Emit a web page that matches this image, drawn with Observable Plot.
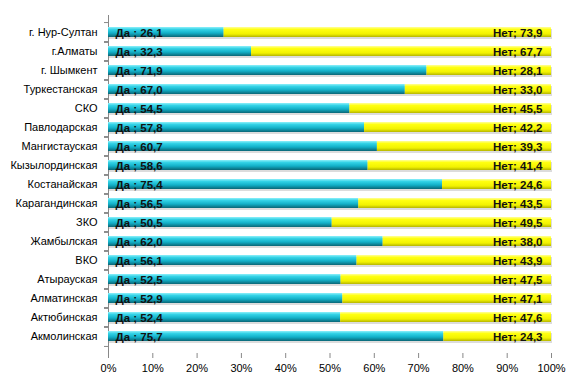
<!DOCTYPE html>
<html>
<head>
<meta charset="utf-8">
<script src="https://cdn.jsdelivr.net/npm/d3@7"></script>
<script src="https://cdn.jsdelivr.net/npm/@observablehq/plot@0.6"></script>
<style>
  body { margin: 0; background: #fff; }
  #chart svg { display: block; }
</style>
</head>
<body>
<div id="chart"></div>
<script>
const regions = ["г. Нур-Султан", "г.Алматы", "г. Шымкент", "Туркестанская", "СКО", "Павлодарская", "Мангистауская", "Кызылординская", "Костанайская", "Карагандинская", "ЗКО", "Жамбылская", "ВКО", "Атырауская", "Алматинская", "Актюбинская", "Акмолинская"];
const yes = [26.1, 32.3, 71.9, 67.0, 54.5, 57.8, 60.7, 58.6, 75.4, 56.5, 50.5, 62.0, 56.1, 52.5, 52.9, 52.4, 75.7];
const no = [73.9, 67.7, 28.1, 33.0, 45.5, 42.2, 39.3, 41.4, 24.6, 43.5, 49.5, 38.0, 43.9, 47.5, 47.1, 47.6, 24.3];
const xTicks = [0, 10, 20, 30, 40, 50, 60, 70, 80, 90, 100];

const fmt = v => v.toFixed(1).replace(".", ",");
const rows = regions.map((r, i) => ({region: r, yes: yes[i], no: no[i]}));

const font = "'Liberation Sans', Arial, sans-serif";
const step = (353 - 15) / regions.length;

const chart = Plot.plot({
  width: 580,
  height: 386,
  marginLeft: 108,
  marginRight: 29,
  marginTop: 15,
  marginBottom: 33,
  style: {fontFamily: font, fontSize: "11px", color: "#000", background: "#fff"},
  x: {domain: [0, 100], ticks: xTicks, tickFormat: d => d + "%", label: null},
  y: {domain: regions, padding: 0.5, align: 0.5, label: null},
  marks: [
    Plot.axisX({ticks: xTicks, tickFormat: d => d + "%", tickSize: 5, tickPadding: 6, stroke: "#888", fill: "#000", fontSize: 11, label: null}),
    Plot.axisY({tickSize: 0, tickPadding: 11, fontSize: 11, fill: "#000", label: null}),
    Plot.axisY({tickSize: 4, tickFormat: () => "", dy: -step / 2, stroke: "#888", label: null}),
    Plot.axisY({tickSize: 4, tickFormat: () => "", dy: step / 2, stroke: "#888", label: null}),
    Plot.ruleX([0], {stroke: "#888"}),
    // shadows
    Plot.barX(rows, {x1: 0, x2: 100, y: "region", fill: "#dcdcdc", dy: 2, dx: 1}),
    Plot.barX(rows, {x1: 0, x2: "yes", y: "region", fill: "url(#gCyan)"}),
    Plot.barX(rows, {x1: "yes", x2: 100, y: "region", fill: "url(#gYellow)"}),
    Plot.text(rows, {x: 0, y: "region", text: d => "Да ; " + fmt(d.yes), textAnchor: "start", dx: 7, dy: 1, fontWeight: "bold", fontSize: 11.5, fill: "#111"}),
    Plot.text(rows, {x: 100, y: "region", text: d => "Нет; " + fmt(d.no), textAnchor: "end", dx: -9, dy: 1, fontWeight: "bold", fontSize: 11.5, fill: "#111"})
  ]
});

const svg = d3.select(chart);
const defs = svg.insert("defs", ":first-child");
const gc = defs.append("linearGradient").attr("id", "gCyan").attr("x1", 0).attr("y1", 0).attr("x2", 0).attr("y2", 1);
[[0, "#8ef0fa"], [0.25, "#33d2e6"], [0.6, "#12b0c8"], [1, "#0a6676"]].forEach(([o, c]) => gc.append("stop").attr("offset", o).attr("stop-color", c));
const gy = defs.append("linearGradient").attr("id", "gYellow").attr("x1", 0).attr("y1", 0).attr("x2", 0).attr("y2", 1);
[[0, "#ffff9a"], [0.25, "#ffff10"], [0.7, "#f2f200"], [1, "#b5b500"]].forEach(([o, c]) => gy.append("stop").attr("offset", o).attr("stop-color", c));

document.getElementById("chart").appendChild(chart);
</script>
</body>
</html>
